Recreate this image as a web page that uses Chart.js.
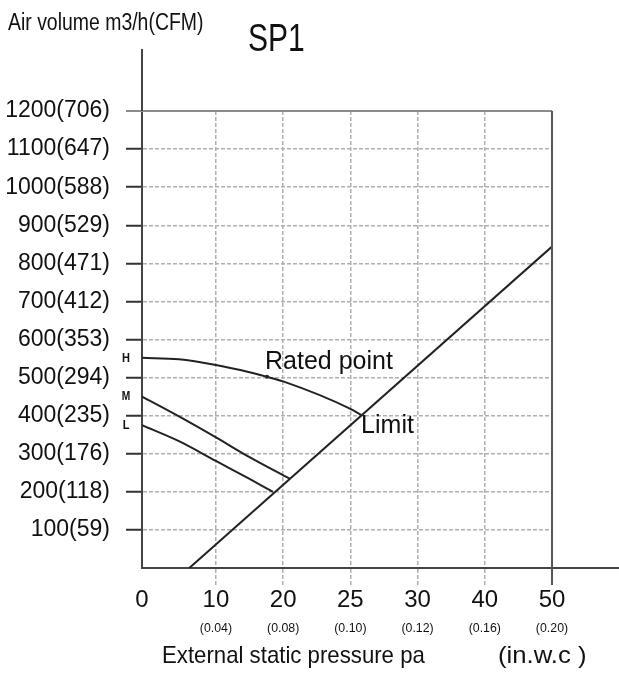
<!DOCTYPE html>
<html>
<head>
<meta charset="utf-8">
<title>SP1</title>
<script src="https://cdn.jsdelivr.net/npm/chart.js@4.4.1/dist/chart.umd.min.js"></script>
<style>
    body { margin: 0; background: #ffffff; }
    #base { display: block; }
</style>
</head>
<body>
<canvas id="base" width="619" height="673"></canvas>
<script>
// Data
const pressureTicks = [0, 10, 20, 25, 30, 40, 50];
const inwcTicks = ["", "(0.04)", "(0.08)", "(0.10)", "(0.12)", "(0.16)", "(0.20)"];
const volumeTicks = [100, 200, 300, 400, 500, 600, 700, 800, 900, 1000, 1100, 1200];
const cfmTicks = [59, 118, 176, 235, 294, 353, 412, 471, 529, 588, 647, 706];

const highPressure = [0, 5, 10, 15, 17.6, 20, 25, 25.8];
const highVolume = [552, 548, 533, 514, 502, 490, 418, 402];
const midPressure = [0, 5, 10, 15, 20.5];
const midVolume = [450, 398, 343, 291, 234];
const lowPressure = [0, 5, 10, 15, 18.5];
const lowVolume = [375, 333, 281, 234, 200];
const limitPressure = [6.4, 50];
const limitVolume = [0, 844];
const ratedPressure = [17.6];
const ratedVolume = [502];

// Layout: where each pressure tick sits on the axis (first gap is a bit wider)
const slotPositions = [0, 1.1, 2.1, 3.1, 4.1, 5.1, 6.1];

const fontFamily = "'Liberation Sans', Arial, sans-serif";
const ink = "#222222";
const gridGrey = "#b0b0b0";

// pressure (pa) -> position on the axis
const toSlot = (p) => {
    for (let i = 0; i < pressureTicks.length - 1; i++) {
        if (p <= pressureTicks[i + 1]) {
            const f = (p - pressureTicks[i]) / (pressureTicks[i + 1] - pressureTicks[i]);
            return slotPositions[i] + f * (slotPositions[i + 1] - slotPositions[i]);
        }
    }
    return slotPositions[slotPositions.length - 1];
};

const slotIndex = (value) => slotPositions.findIndex((s) => Math.abs(s - value) < 1e-6);
const lastSlot = slotPositions[slotPositions.length - 1];

const points = (xs, ys) => xs.map((p, i) => ({ x: toSlot(p), y: ys[i] }));

const curve = (label, xs, ys) => ({
    label: label,
    data: points(xs, ys),
    borderColor: ink,
    borderWidth: 2,
    pointRadius: 0,
    cubicInterpolationMode: "monotone",
    tension: 0.4,
});

// condensed text helper
const drawText = (ctx, text, x, y, size, sx, align, weight, baseline) => {
    ctx.save();
    ctx.font = (weight || "normal") + " " + size + "px " + fontFamily;
    ctx.fillStyle = "#111111";
    ctx.textAlign = align || "left";
    ctx.textBaseline = baseline || "alphabetic";
    ctx.translate(x, y);
    ctx.scale(sx, 1);
    ctx.fillText(text, 0, 0);
    ctx.restore();
};

// Frame, extra axis lines and labels
const decorations = {
    id: "decorations",
    afterDraw(chart) {
        const { ctx, chartArea, scales } = chart;
        const x = scales.x;
        const y = scales.y;

        ctx.save();
        ctx.lineCap = "butt";

        // top border (1200)
        ctx.strokeStyle = "#8a8a8a";
        ctx.lineWidth = 2;
        ctx.beginPath();
        ctx.moveTo(chartArea.left - 16, y.getPixelForValue(1200));
        ctx.lineTo(chartArea.right, y.getPixelForValue(1200));
        ctx.stroke();

        // right border (50)
        ctx.strokeStyle = "#555555";
        ctx.beginPath();
        ctx.moveTo(x.getPixelForValue(lastSlot), chartArea.top);
        ctx.lineTo(x.getPixelForValue(lastSlot), chartArea.bottom + 17);
        ctx.stroke();

        // axis extensions
        ctx.strokeStyle = "#444444";
        ctx.beginPath();
        ctx.moveTo(chartArea.left, chartArea.top);
        ctx.lineTo(chartArea.left, 49);
        ctx.moveTo(chartArea.right, chartArea.bottom);
        ctx.lineTo(chart.width, chartArea.bottom);
        ctx.stroke();
        ctx.restore();

        // in.w.c sub labels
        inwcTicks.forEach((t, i) => {
            if (t) drawText(ctx, t, x.getPixelForValue(slotPositions[i]), chartArea.bottom + 64, 13, 0.95, "center");
        });

        // titles
        drawText(ctx, "Air volume m3/h(CFM)", 8, 30, 23, 0.845);
        drawText(ctx, "SP1", 248, 51, 39, 0.77);
        drawText(ctx, "External static pressure pa", 162, 663, 24, 0.925);
        drawText(ctx, "(in.w.c )", 498, 663, 24, 1.07);

        // speed labels
        drawText(ctx, "H", chartArea.left - 16, y.getPixelForValue(highVolume[0]) + 1, 13, 0.85, "center", "bold", "middle");
        drawText(ctx, "M", chartArea.left - 16, y.getPixelForValue(midVolume[0]), 12, 0.85, "center", "bold", "middle");
        drawText(ctx, "L", chartArea.left - 16, y.getPixelForValue(lowVolume[0]), 13, 0.85, "center", "bold", "middle");

        // annotations
        const rx = x.getPixelForValue(toSlot(ratedPressure[0]));
        const ry = y.getPixelForValue(ratedVolume[0]);
        drawText(ctx, "Rated point", rx - 2, ry - 8, 25, 1);
        const lx = x.getPixelForValue(toSlot(highPressure[highPressure.length - 1]));
        const ly = y.getPixelForValue(highVolume[highVolume.length - 1]);
        drawText(ctx, "Limit", lx, ly + 18, 25, 1);
    },
};

// Get Container
const base = document.getElementById("base").getContext("2d");

// Chart
const chart = new Chart(base, {
    type: "line",
    data: {
        datasets: [
            curve("H", highPressure, highVolume),
            curve("M", midPressure, midVolume),
            curve("L", lowPressure, lowVolume),
            curve("Limit", limitPressure, limitVolume),
            {
                label: "Rated point",
                data: points(ratedPressure, ratedVolume),
                showLine: false,
                pointRadius: 2,
                pointBackgroundColor: ink,
                pointBorderWidth: 0,
            },
        ],
    },
    options: {
        responsive: false,
        animation: false,
        layout: {
            padding: { top: 111, right: 67, left: 0, bottom: 0 },
        },
        scales: {
            x: {
                type: "linear",
                min: 0,
                max: lastSlot,
                afterBuildTicks: (scale) => {
                    scale.ticks = slotPositions.map((s) => ({ value: s }));
                },
                afterFit: (scale) => {
                    scale.height = 105;
                },
                ticks: {
                    callback: (value) => String(pressureTicks[slotIndex(value)]),
                    font: { family: fontFamily, size: 24 },
                    color: "#111111",
                    padding: 1,
                    maxRotation: 0,
                    autoSkip: false,
                },
                grid: {
                    color: (c) => {
                        const i = c.tick ? slotIndex(c.tick.value) : -1;
                        return i > 0 && i < slotPositions.length - 1 ? gridGrey : "transparent";
                    },
                    lineWidth: 1.5,
                    tickColor: (c) => {
                        const i = c.tick ? slotIndex(c.tick.value) : -1;
                        return i > 0 && i < slotPositions.length - 1 ? gridGrey : "transparent";
                    },
                    tickLength: 17,
                    tickWidth: 1.5,
                    tickBorderDash: [4, 2],
                },
                border: {
                    color: "#444444",
                    width: 2,
                    dash: [4, 2],
                },
            },
            y: {
                type: "linear",
                min: 0,
                max: 1200,
                afterBuildTicks: (scale) => {
                    scale.ticks = [0].concat(volumeTicks).map((v) => ({ value: v }));
                },
                afterFit: (scale) => {
                    scale.width = 142;
                },
                ticks: {
                    callback: (value) => {
                        const i = volumeTicks.indexOf(value);
                        return i < 0 ? "" : value + "(" + cfmTicks[i] + ")";
                    },
                    font: { family: fontFamily, size: 23 },
                    color: "#111111",
                    padding: 16,
                },
                grid: {
                    color: (c) => (c.tick && c.tick.value > 0 && c.tick.value < 1200 ? gridGrey : "transparent"),
                    lineWidth: 1.5,
                    tickColor: (c) => (c.tick && c.tick.value > 0 && c.tick.value < 1200 ? "#333333" : "transparent"),
                    tickLength: 16,
                    tickWidth: 2,
                    tickBorderDash: [],
                },
                border: {
                    color: "#444444",
                    width: 2,
                    dash: [4, 2],
                },
            },
        },
        plugins: {
            legend: { display: false },
            tooltip: { enabled: false },
        },
    },
    plugins: [decorations],
});
</script>
</body>
</html>
